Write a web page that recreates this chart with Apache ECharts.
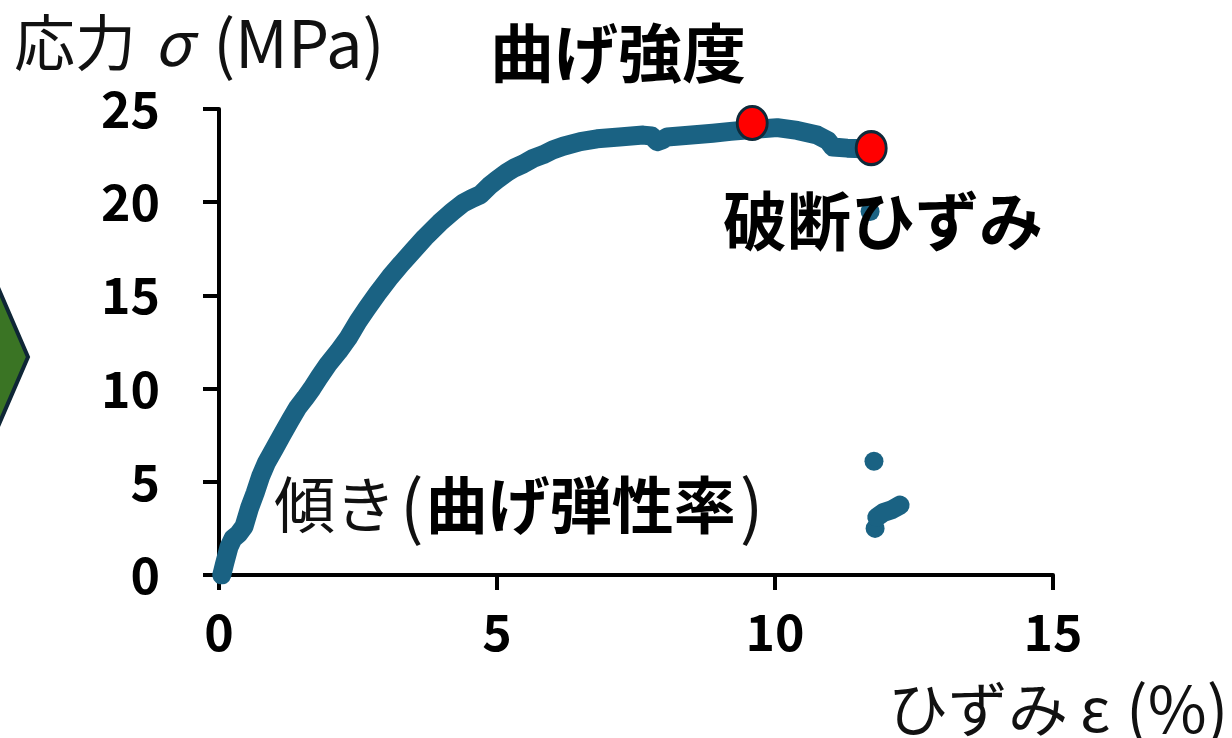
<!DOCTYPE html>
<html>
<head>
<meta charset="utf-8">
<script src="https://cdn.jsdelivr.net/npm/echarts@6/dist/echarts.min.js"></script>
<style>
  html, body { margin: 0; padding: 0; background: #fff; }
  #chart { width: 1232px; height: 738px; }
</style>
</head>
<body>
<div id="chart"></div>
<script>
// Bending test: stress–strain curve (strain %, stress MPa)
const strain = [
  0.05, 0.1, 0.18, 0.25, 0.35, 0.45, 0.55, 0.65, 0.75, 0.85, 1.0, 1.13, 1.28, 1.42, 1.55,
  1.67, 1.8, 1.96, 2.15, 2.32, 2.5, 2.66, 2.85, 3.08, 3.28, 3.49, 3.7, 3.97, 4.2, 4.39,
  4.55, 4.7, 4.87, 5.0, 5.18, 5.32, 5.47, 5.65, 5.83, 6.0, 6.19, 6.5, 6.8, 7.2, 7.63,
  7.78, 7.88, 7.98, 8.06, 8.5, 8.88, 9.2, 9.59, 10.04, 10.4, 10.76, 10.95, 11.04, 11.3, 11.73
];
const stress = [
  0.0, 0.6, 1.5, 1.95, 2.2, 2.6, 3.6, 4.4, 5.3, 6.0, 6.8, 7.5, 8.3, 9.0, 9.5,
  10.0, 10.6, 11.3, 12.0, 12.7, 13.6, 14.3, 15.1, 16.0, 16.7, 17.4, 18.1, 18.9, 19.5, 19.95,
  20.2, 20.4, 20.9, 21.2, 21.6, 21.85, 22.05, 22.35, 22.55, 22.8, 23.0, 23.25, 23.4, 23.5, 23.6,
  23.55, 23.25, 23.35, 23.5, 23.6, 23.7, 23.8, 23.9, 24.0, 23.85, 23.6, 23.3, 22.96, 22.9, 22.85
];
// isolated readings after fracture
const afterBreakDots = [[11.71, 19.5], [11.78, 6.1], [11.8, 2.5]];
const afterBreakTail = [[11.83, 3.1], [11.95, 3.35], [12.1, 3.5], [12.25, 3.75]];
// bending strength and fracture strain markers
const keyPoints = [[9.59, 24.25], [11.73, 22.9]];

const xTicks = { min: 0, max: 15, step: 5 };
const yTicks = { min: 0, max: 25, step: 5 };

const FONT = '"Noto Sans CJK JP", "Noto Sans", sans-serif';
const LINE_COLOR = '#1a6283';
const curve = strain.map((x, i) => [x, stress[i]]);

const chart = echarts.init(document.getElementById('chart'));
chart.setOption({
  animation: false,
  grid: { left: 219, right: 179, top: 109, bottom: 163 },
  xAxis: {
    type: 'value', min: xTicks.min, max: xTicks.max, interval: xTicks.step,
    splitLine: { show: false },
    axisLine: { lineStyle: { color: '#000', width: 4 } },
    axisTick: { length: 15, lineStyle: { color: '#000', width: 4 } },
    axisLabel: { margin: 32, color: '#000', fontSize: 50, fontWeight: 'bold', fontFamily: FONT }
  },
  yAxis: {
    type: 'value', min: yTicks.min, max: yTicks.max, interval: yTicks.step,
    splitLine: { show: false },
    axisLine: { show: true, lineStyle: { color: '#000', width: 4 } },
    axisTick: { show: true, length: 16, lineStyle: { color: '#000', width: 4 } },
    axisLabel: { margin: 59, color: '#000', fontSize: 50, fontWeight: 'bold', fontFamily: FONT }
  },
  series: [
    {
      type: 'line', data: curve, showSymbol: false,
      lineStyle: { color: LINE_COLOR, width: 19, cap: 'round', join: 'round' }
    },
    {
      type: 'line', data: afterBreakTail, showSymbol: false,
      lineStyle: { color: LINE_COLOR, width: 19, cap: 'round', join: 'round' }
    },
    {
      type: 'scatter', data: afterBreakDots, symbolSize: 19,
      itemStyle: { color: LINE_COLOR, opacity: 1 }
    },
    {
      type: 'scatter', data: keyPoints, symbolSize: [30, 33], z: 5,
      itemStyle: { color: '#ff0000', borderColor: '#0e2a3a', borderWidth: 3, opacity: 1 }
    }
  ],
  graphic: [
    {
      type: 'polygon', z: 1,
      shape: { points: [[-60, 153], [28, 357], [-60, 561]] },
      style: { fill: '#3a7424', stroke: '#0f2636', lineWidth: 4 }
    },
    {
      type: 'text', x: 14, y: 43, z: 100,
      style: {
        text: '{c|応力}{g|σ}{m|(MPa)}',
        textAlign: 'left', textVerticalAlign: 'middle',
        rich: {
          c: { fontSize: 61, fontFamily: FONT, fill: '#111' },
          g: { fontSize: 61, fontFamily: FONT, fontStyle: 'italic', fill: '#111', padding: [0, 22, 0, 18] },
          m: { fontSize: 65, fontFamily: FONT, fill: '#111' }
        }
      }
    },
    {
      type: 'text', x: 490, y: 53, z: 100,
      style: { text: '曲げ強度', fontSize: 64, fontWeight: 'bold', fontFamily: FONT, fill: '#000',
               textAlign: 'left', textVerticalAlign: 'middle' }
    },
    {
      type: 'text', x: 723, y: 221, z: 100,
      style: { text: '破断ひずみ', fontSize: 64, fontWeight: 'bold', fontFamily: FONT, fill: '#000',
               textAlign: 'left', textVerticalAlign: 'middle' }
    },
    {
      type: 'text', x: 274, y: 505, z: 100,
      style: {
        text: '{n|傾き}{p|(}{b|曲げ弾性率}{q|)}',
        textAlign: 'left', textVerticalAlign: 'middle',
        rich: {
          n: { fontSize: 61, fontFamily: FONT, fill: '#111' },
          p: { fontSize: 70, fontFamily: FONT, fill: '#111', padding: [0, 2, 0, 4] },
          q: { fontSize: 70, fontFamily: FONT, fill: '#111', padding: [0, 0, 0, 4] },
          b: { fontSize: 62, fontWeight: 'bold', fontFamily: FONT, fill: '#000' }
        }
      }
    },
    {
      type: 'text', x: 888, y: 709, z: 100,
      style: {
        text: '{c|ひずみ}{g|ε}{m|(%)}',
        textAlign: 'left', textVerticalAlign: 'middle',
        rich: {
          c: { fontSize: 60, fontFamily: FONT, fill: '#111' },
          g: { fontSize: 60, fontFamily: FONT, fill: '#111', padding: [0, 16, 0, 12] },
          m: { fontSize: 64, fontFamily: FONT, fill: '#111' }
        }
      }
    }
  ]
});
</script>
</body>
</html>
